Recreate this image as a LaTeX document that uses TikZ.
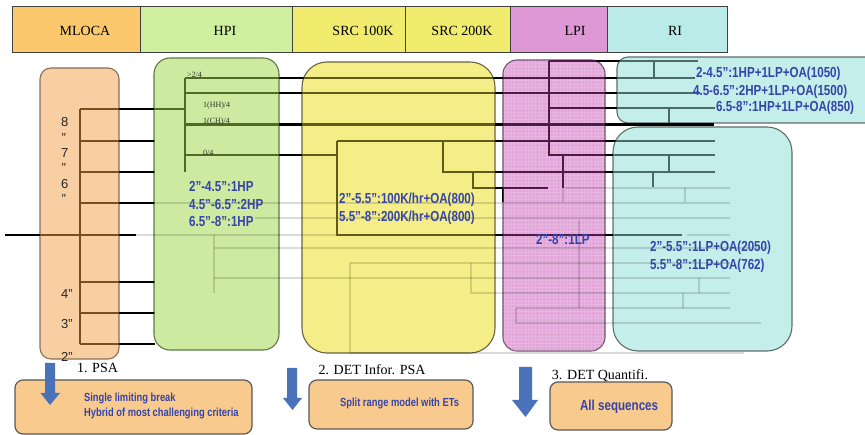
\documentclass[tikz,border=0pt]{standalone}
\usepackage{fontspec}
\setmainfont{Liberation Serif}
\newfontfamily\digitfont{Liberation Sans}
\newfontfamily\bluefont[FakeStretch=0.8]{Liberation Sans}

% header colours
\definecolor{hMLOCA}{HTML}{FBC86E}
\definecolor{hHPI}{HTML}{CDEF9E}
\definecolor{hSRC}{HTML}{F1EC6E}
\definecolor{hLPI}{HTML}{DE98D6}
\definecolor{hRI}{HTML}{BBEBE8}
% phase panels
\definecolor{pMLOCA}{HTML}{F8CFA2}
\definecolor{pHPI}{HTML}{CDEAA0}
\definecolor{pSRC}{HTML}{F5EE88}
\definecolor{pLPI}{HTML}{E2A6DA}
\definecolor{pRI}{HTML}{C4EEEA}
\definecolor{bMLOCA}{HTML}{8C6E50}
\definecolor{bHPI}{HTML}{5C7A44}
\definecolor{bSRC}{HTML}{6A6440}
\definecolor{bLPI}{HTML}{6E4E6A}
\definecolor{bRI}{HTML}{5E6E6C}
% branch colours inside each panel
\definecolor{lMLOCA}{HTML}{7A4E1E}
\definecolor{lHPI}{HTML}{4F6B25}
\definecolor{lSRC}{HTML}{5E5A18}
\definecolor{lLPI}{HTML}{4D1B44}
\definecolor{lRI}{HTML}{4A6A68}
\definecolor{txtblue}{HTML}{3444AA}
\definecolor{stepfill}{HTML}{F9CA8E}
\definecolor{arrowblue}{HTML}{4A72B8}

% main event-tree branches (drawn in the current colour)
\newcommand\treelines{%
  % MLOCA break sizes
  \draw[line width=2.6pt] (80,109) -- (80,344);
  \foreach \yy in {141,172,203,282,313,344} \draw (80,\yy) -- (155,\yy);
  \draw (80,109) -- (185,109);
  \draw (5,235) -- (136,235);
  % HPI
  \draw[line width=2.6pt] (185,78) -- (185,172);
  \draw (185,78) -- (695,78);
  \draw (185,93) -- (700,93);
  \draw[line width=3pt] (185,125) -- (714,125);
  \draw (185,155) -- (337,155);
  % SRC
  \draw (337,141) -- (337,235) -- (682,235);
  \draw (337,141) -- (715,141);
  \draw (443,141) -- (443,172) -- (715,172);
  \draw (473,172) -- (473,188) -- (548,188);
  \draw (503,188) -- (503,202);
  % LPI
  \draw (549,61) -- (549,155) -- (715,155);
  \draw (549,61) -- (698,61);
  \draw (549,108) -- (715,108);
  \draw (563,155) -- (563,188);
  % RI
  \draw (654,61) -- (654,78);
  \draw (669,108) -- (669,124);
  \draw (669,155) -- (669,172);
  \draw (653,172) -- (653,187);
}

% faded lower part of the tree
\newcommand\faintlines{%
  \draw (155,203) -- (730,203);
  \draw (255,218) -- (730,218);
  \draw (136,235) -- (337,235);
  \draw (687,235) -- (730,235);
  \draw (214,235) -- (214,293);
  \draw (214,248) -- (768,248);
  \draw (214,278) -- (730,278);
  \draw (350,263) -- (350,353) -- (744,353);
  \draw (350,263) -- (730,263);
  \draw (471,263) -- (471,293) -- (730,293);
  \draw (579,220) -- (579,308);
  \draw (516,308) -- (730,308);
  \draw (516,308) -- (516,323) -- (761,323);
  \draw (563,188) -- (563,202);
  \draw (565,188) -- (730,188);
  \draw (685,188) -- (685,202);
  \draw (699,278) -- (699,293);
  \draw (683,293) -- (683,308);
}

\tikzset{
  hdr/.style={draw=black!75, line width=0.7pt},
  hdrtxt/.style={font=\fontsize{14}{16}\selectfont, inner sep=0pt},
  panel/.style={line width=1.1pt},
  bluetxt/.style={font=\bluefont\bfseries\fontsize{14.5}{17}\selectfont, text=txtblue, anchor=west, inner sep=0pt},
  smallblue/.style={font=\bluefont\bfseries\fontsize{11.7}{14}\selectfont, text=txtblue, anchor=west, inner sep=0pt},
  brlabel/.style={font=\fontsize{8}{9}\selectfont, anchor=west, inner sep=0pt, text=black!80},
  sizelabel/.style={font=\digitfont\fontsize{13}{15}\selectfont, anchor=base west, inner sep=0pt, text=black!85},
  steplabel/.style={font=\fontsize{14}{16}\selectfont, inner sep=0pt},
  stepbox/.style={fill=stepfill, draw=black!65, line width=1.2pt, rounded corners=8pt},
  blockarrow/.style={fill=arrowblue, draw=none},
}

\begin{document}
\begin{tikzpicture}[x=1pt, y=-1pt, line width=2.2pt, line join=miter]
\useasboundingbox (0,0) rectangle (865,435);
\clip (0,0) rectangle (865,435);
\fill[white] (0,0) rectangle (865,435);

% ---- header row ----
\draw[hdr, fill=hMLOCA] (12,6) rectangle (140,52);
\draw[hdr, fill=hHPI]   (140,6) rectangle (292,52);
\draw[hdr, fill=hSRC]   (292,6) rectangle (405,52);
\draw[hdr, fill=hSRC]   (405,6) rectangle (510,52);
\draw[hdr, fill=hLPI]   (510,6) rectangle (607,52);
\draw[hdr, fill=hRI]    (607,6) rectangle (727,52);
\node[hdrtxt] (hmloca) at (85,31) {MLOCA};
\node[hdrtxt] (hhpi)   at (225,31) {HPI};
\node[hdrtxt] (hsrca)  at (363,31) {SRC 100K};
\node[hdrtxt] (hsrcb)  at (462,31) {SRC 200K};
\node[hdrtxt] (hlpi)   at (575,31) {LPI};
\node[hdrtxt] (hri)    at (675,31) {RI};

% ---- phase panels ----
\draw[panel, fill=pMLOCA, draw=bMLOCA, rounded corners=11pt] (40,68) rectangle (119,359);
\draw[panel, fill=pHPI, draw=bHPI, rounded corners=16pt] (154,58) rectangle (279,350);
\draw[panel, fill=pSRC, draw=bSRC, rounded corners=25pt] (302,62) rectangle (495,353);
\draw[panel, fill=pLPI, draw=bLPI, rounded corners=14pt] (503,60) rectangle (605,351);
\begin{scope}
  \clip[rounded corners=14pt] (503,60) rectangle (605,351);
  \draw[white, opacity=0.18, line width=0.4pt, step=3.5pt] (500,57) grid (608,354);
\end{scope}
\draw[panel, fill=pRI, draw=bRI, rounded corners=11pt] (617,57) rectangle (885,123);
\draw[panel, fill=pRI, draw=bRI, rounded corners=25pt] (613,127) rectangle (792,351);

% ---- faded branches ----
\begin{scope}[draw=black, draw opacity=0.14, line width=1.5pt]
  \faintlines
\end{scope}

% ---- main branches, tinted inside each panel ----
\begin{scope}[color=black]
  \treelines
\end{scope}
\begin{scope}
  \clip[rounded corners=11pt] (40,68) rectangle (119,359);
  \begin{scope}[color=lMLOCA] \treelines \end{scope}
\end{scope}
\begin{scope}
  \clip[rounded corners=16pt] (154,58) rectangle (279,350);
  \begin{scope}[color=lHPI] \treelines \end{scope}
\end{scope}
\begin{scope}
  \clip[rounded corners=25pt] (302,62) rectangle (495,353);
  \begin{scope}[color=lSRC] \treelines \end{scope}
\end{scope}
\begin{scope}
  \clip[rounded corners=14pt] (503,60) rectangle (605,351);
  \begin{scope}[color=lLPI] \treelines \end{scope}
\end{scope}
\begin{scope}
  \clip[rounded corners=11pt] (617,57) rectangle (885,123);
  \begin{scope}[color=lRI] \treelines \end{scope}
\end{scope}
\begin{scope}
  \clip[rounded corners=25pt] (613,127) rectangle (792,351);
  \begin{scope}[color=lRI] \treelines \end{scope}
\end{scope}

% ---- break size scale ----
\node[sizelabel] (s8) at (60,127) {8};
\node[sizelabel] (q8) at (60.5,142.3) {”};
\node[sizelabel] (s7) at (60,157.6) {7};
\node[sizelabel] (q7) at (60.5,172.9) {”};
\node[sizelabel] (s6) at (60,188.2) {6};
\node[sizelabel] (q6) at (60.5,203.5) {”};
\node[sizelabel] (s4) at (60,298.6) {4”};
\node[sizelabel] (s3) at (60,328.6) {3”};
\node[sizelabel] (s2) at (60,361.6) {2”};

% ---- HPI branch labels ----
\node[brlabel] (hpa) at (186,75) {>2/4};
\node[brlabel] (hpb) at (202,106) {1(HH)/4};
\node[brlabel] (hpc) at (202,122) {1(CH)/4};
\node[brlabel] (hpd) at (202,153) {0/4};

% ---- success criteria ----
\node[bluetxt] (hpi1) at (188,187) {2”-4.5”:1HP};
\node[bluetxt] (hpi2) at (188,205) {4.5”-6.5”:2HP};
\node[bluetxt] (hpi3) at (188,222) {6.5”-8”:1HP};
\node[bluetxt] (src1) at (338,200) {2”-5.5”:100K/hr+OA(800)};
\node[bluetxt] (src2) at (338,218) {5.5”-8”:200K/hr+OA(800)};
\node[bluetxt] (lpi1) at (535,240) {2”-8”:1LP};
\node[bluetxt] (ria)  at (695,74) {2-4.5”:1HP+1LP+OA(1050)};
\node[bluetxt] (rib)  at (692,92) {4.5-6.5”:2HP+1LP+OA(1500)};
\node[bluetxt] (ric)  at (715,108) {6.5-8”:1HP+1LP+OA(850)};
\node[bluetxt] (rid)  at (649,248) {2”-5.5”:1LP+OA(2050)};
\node[bluetxt] (rie)  at (649,266) {5.5”-8”:1LP+OA(762)};

% ---- analysis steps ----
\node[steplabel] (st1) at (97.5,368) {1. PSA};
\node[steplabel] (st2) at (372,370) {2. DET Infor. PSA};
\node[steplabel] (st3) at (600,376) {3. DET Quantifi.};

\draw[stepbox] (15,380) rectangle (252,434);
\draw[stepbox] (309,380) rectangle (473,429);
\draw[stepbox] (550,382) rectangle (672,430);

\fill[blockarrow] (45,363) -- (55,363) -- (55,393) -- (60,393) -- (50,405) -- (40.5,393) -- (45,393) -- cycle;
\fill[blockarrow] (287,368) -- (297,368) -- (297,398) -- (302,398) -- (292.5,410) -- (283,398) -- (287,398) -- cycle;
\fill[blockarrow] (519,367) -- (532,367) -- (532,400) -- (538,400) -- (525.5,417) -- (512,400) -- (519,400) -- cycle;

\node[smallblue] (b1a) at (83,399) {Single limiting break};
\node[smallblue] (b1b) at (83,414) {Hybrid of most challenging criteria};
\node[smallblue] (b2)  at (339,404) {Split range model with ETs};
\node[bluetxt]   (b3)  at (579,407) {All sequences};
\end{tikzpicture}
\end{document}
